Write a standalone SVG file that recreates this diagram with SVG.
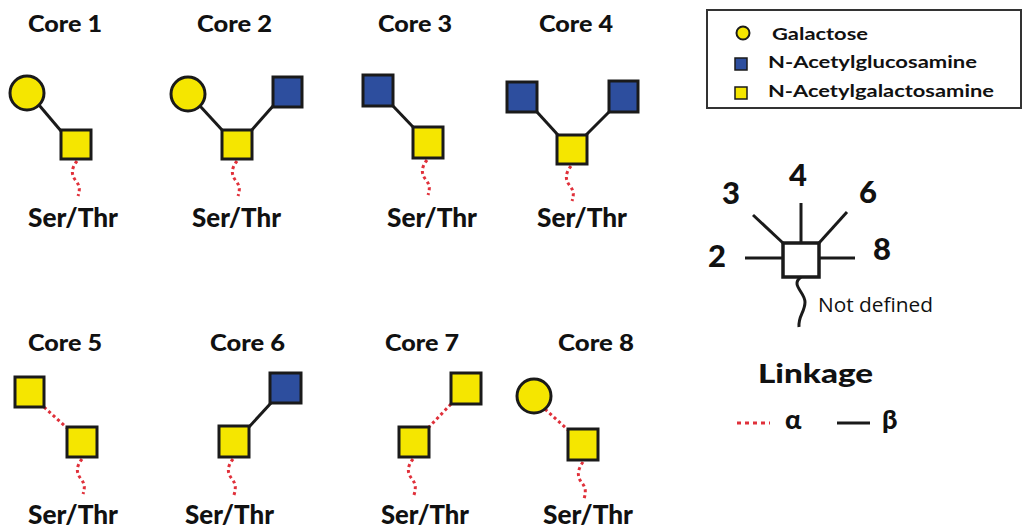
<svg xmlns="http://www.w3.org/2000/svg" width="1025" height="528" viewBox="0 0 1025 528">
<style>
.t{font-family:Lato,"Liberation Sans",sans-serif;font-weight:900;fill:#111;}
.core{font-size:22px;}
.st{font-size:26px;}
.lg{font-size:17px;font-weight:bold;}
.num{font-size:31px;}
.big{font-size:26px;}
.nd{font-family:"Open Sans","Liberation Sans",sans-serif;font-size:20px;fill:#111;}
.gal{fill:#f5e600;stroke:#1a1a1a;stroke-width:3;}
.glc{fill:#2d4e9e;stroke:#1a1a1a;stroke-width:3;}
.b{stroke:#1a1a1a;stroke-width:3;fill:none;}
.a{stroke:#e0303a;stroke-width:3;fill:none;stroke-dasharray:3 3;}
</style>
<rect width="1025" height="528" fill="#fff"/>
<g id="connectors">
<line class="b" x1="39" y1="105" x2="61" y2="131"/>
<path class="a" d="M77,161 C70,170 72,176 76,181 S80,190 78,196"/>
<line class="b" x1="200" y1="106" x2="223" y2="131"/>
<line class="b" x1="273" y1="106" x2="251" y2="131"/>
<path class="a" d="M237,161 C230,170 232,176 236,181 S240,190 238,196"/>
<line class="b" x1="393" y1="106" x2="414" y2="128"/>
<path class="a" d="M427,160 C420,169 422,175 426,180 S430,189 428,195"/>
<line class="b" x1="537" y1="112" x2="558" y2="135"/>
<line class="b" x1="609" y1="112" x2="586" y2="135"/>
<path class="a" d="M571,166 C564,175 566,181 570,186 S574,195 572,201"/>
<line class="a" x1="44" y1="407" x2="67" y2="428"/>
<path class="a" d="M82,459 C75,468 77,474 81,479 S85,488 83,494"/>
<line class="b" x1="271" y1="403" x2="249" y2="427"/>
<path class="a" d="M233,459 C226,468 228,474 232,479 S236,488 234,495"/>
<line class="a" x1="451" y1="404" x2="429" y2="427"/>
<path class="a" d="M413,459 C406,468 408,474 412,479 S416,488 414,495"/>
<line class="a" x1="545" y1="409" x2="568" y2="430"/>
<path class="a" d="M583,462 C576,472 578,478 582,483 S586,492 584,499"/>
</g>
<g id="core1">
<text class="t core" x="28" y="32" textLength="74" lengthAdjust="spacingAndGlyphs">Core 1</text>
<circle class="gal" cx="27" cy="93" r="17"/>
<rect class="gal" x="61" y="130" width="30" height="29"/>
<text class="t st" x="28" y="227" textLength="90" lengthAdjust="spacingAndGlyphs">Ser/Thr</text>
</g>
<g id="core2">
<text class="t core" x="197" y="32" textLength="75" lengthAdjust="spacingAndGlyphs">Core 2</text>
<circle class="gal" cx="188" cy="94" r="17"/>
<rect class="glc" x="273" y="77" width="29" height="30"/>
<rect class="gal" x="222" y="130" width="30" height="29"/>
<text class="t st" x="192" y="227" textLength="89" lengthAdjust="spacingAndGlyphs">Ser/Thr</text>
</g>
<g id="core3">
<text class="t core" x="378" y="32" textLength="74" lengthAdjust="spacingAndGlyphs">Core 3</text>
<rect class="glc" x="363" y="75" width="30" height="31"/>
<rect class="gal" x="413" y="127" width="30" height="31"/>
<text class="t st" x="387" y="227" textLength="90" lengthAdjust="spacingAndGlyphs">Ser/Thr</text>
</g>
<g id="core4">
<text class="t core" x="539" y="32" textLength="74" lengthAdjust="spacingAndGlyphs">Core 4</text>
<rect class="glc" x="507" y="82" width="30" height="30"/>
<rect class="glc" x="609" y="81" width="29" height="31"/>
<rect class="gal" x="557" y="135" width="30" height="29"/>
<text class="t st" x="537" y="227" textLength="90" lengthAdjust="spacingAndGlyphs">Ser/Thr</text>
</g>
<g id="core5">
<text class="t core" x="28" y="351" textLength="74" lengthAdjust="spacingAndGlyphs">Core 5</text>
<rect class="gal" x="15" y="377" width="29" height="30"/>
<rect class="gal" x="67" y="427" width="30" height="30"/>
<text class="t st" x="28" y="524" textLength="90" lengthAdjust="spacingAndGlyphs">Ser/Thr</text>
</g>
<g id="core6">
<text class="t core" x="210" y="351" textLength="75" lengthAdjust="spacingAndGlyphs">Core 6</text>
<rect class="glc" x="270" y="373" width="31" height="30"/>
<rect class="gal" x="219" y="426" width="30" height="31"/>
<text class="t st" x="185" y="524" textLength="89" lengthAdjust="spacingAndGlyphs">Ser/Thr</text>
</g>
<g id="core7">
<text class="t core" x="385" y="351" textLength="74" lengthAdjust="spacingAndGlyphs">Core 7</text>
<rect class="gal" x="451" y="373" width="30" height="31"/>
<rect class="gal" x="399" y="427" width="30" height="30"/>
<text class="t st" x="381" y="524" textLength="88" lengthAdjust="spacingAndGlyphs">Ser/Thr</text>
</g>
<g id="core8">
<text class="t core" x="558" y="351" textLength="76" lengthAdjust="spacingAndGlyphs">Core 8</text>
<circle class="gal" cx="534" cy="396" r="17"/>
<rect class="gal" x="568" y="429" width="30" height="31"/>
<text class="t st" x="543" y="524" textLength="90" lengthAdjust="spacingAndGlyphs">Ser/Thr</text>
</g>
<g id="legend">
<rect x="707" y="10" width="314" height="98" fill="#fff" stroke="#333" stroke-width="2"/>
<circle cx="743" cy="33" r="6.5" fill="#f5e600" stroke="#1a1a1a" stroke-width="2"/>
<text class="t lg" x="772" y="40" textLength="96" lengthAdjust="spacingAndGlyphs">Galactose</text>
<rect x="735" y="58" width="12" height="12" fill="#2d4e9e" stroke="#1a1a1a" stroke-width="1.5"/>
<text class="t lg" x="768" y="68" textLength="209" lengthAdjust="spacingAndGlyphs">N-Acetylglucosamine</text>
<rect x="735" y="87" width="12" height="12" fill="#f5e600" stroke="#1a1a1a" stroke-width="1.5"/>
<text class="t lg" x="768" y="97" textLength="226" lengthAdjust="spacingAndGlyphs">N-Acetylgalactosamine</text>
</g>
<g id="linkage-positions">
<rect x="783" y="243" width="36" height="34" fill="#fff" stroke="#1a1a1a" stroke-width="3.5"/>
<line class="b" x1="745" y1="258" x2="783" y2="258"/>
<line class="b" x1="819" y1="258" x2="855" y2="258"/>
<line class="b" x1="801" y1="203" x2="801" y2="243"/>
<line class="b" x1="753" y1="215" x2="783" y2="243"/>
<line class="b" x1="847" y1="212" x2="819" y2="243"/>
<path class="b" d="M801,277 C790,285 805,292 805,302 S798,316 799,327"/>
<text class="t num" x="708" y="267">2</text>
<text class="t num" x="722" y="204">3</text>
<text class="t num" x="789" y="186">4</text>
<text class="t num" x="859" y="203">6</text>
<text class="t num" x="873" y="260">8</text>
<text class="nd" x="818" y="312" textLength="115" lengthAdjust="spacingAndGlyphs">Not defined</text>
</g>
<g id="linkage-legend">
<text class="t big" x="758" y="383" textLength="115" lengthAdjust="spacingAndGlyphs">Linkage</text>
<line class="a" x1="737" y1="423" x2="770" y2="423" style="stroke-dasharray:4 4"/>
<text class="t" style="font-size:27px" x="785" y="429">α</text>
<line class="b" x1="837" y1="423" x2="870" y2="423"/>
<text class="t" style="font-size:27px" x="882" y="429">β</text>
</g>
</svg>
